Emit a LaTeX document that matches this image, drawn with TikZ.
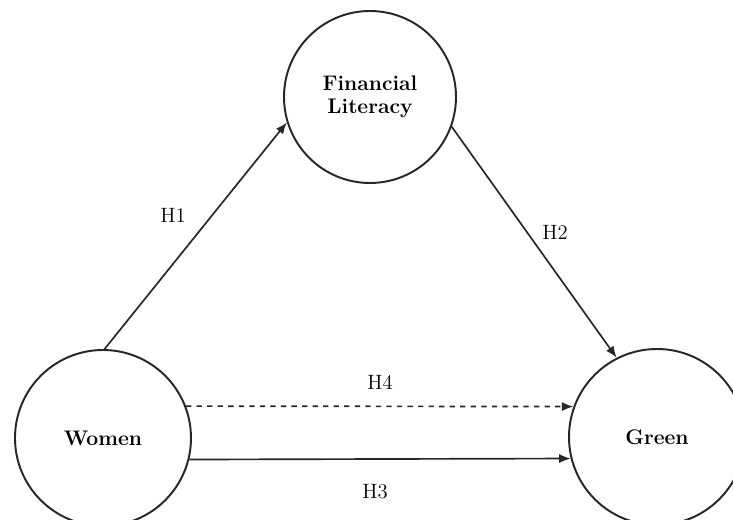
\documentclass[tikz,border=0pt]{standalone}
\usepackage{tikz}
\usetikzlibrary{arrows.meta}

\tikzset{
    construct/.style={circle, draw=black!85, line width=1.1pt, align=center, font=\large\bfseries},
    hyp/.style={black!85, line width=0.95pt, -{Latex[length=2.3mm,width=1.8mm]}},
    hlabel/.style={font=\fontsize{11.8}{14}\selectfont}
}

\begin{document}
\begin{tikzpicture}
        \clip (0,0) rectangle (14.66,-10.4);
        \fill [white] (0,0) rectangle (14.66,-10.4);

        \node [construct, minimum size=3.44cm] (fin) at (7.4,-1.94) {Financial\\[-1pt]Literacy};
        \node [construct, minimum size=3.52cm] (women) at (2.06,-8.76) {Women};
        \node [construct, minimum size=3.52cm] (green) at (13.14,-8.74) {Green};

        \draw [hyp] (women.89) -- (fin.197);
        \draw [hyp] (fin.-20) -- (green.117);
        \draw [hyp, dashed] (women.21) -- (green.160);
        \draw [hyp] (women.-14) -- (green.194);

        \node [hlabel] (h1) at (3.46,-4.30) {H1};
        \node [hlabel] (h2) at (11.1,-4.64) {H2};
        \node [hlabel] (h4) at (7.6,-7.64) {H4};
        \node [hlabel] (h3) at (7.5,-9.84) {H3};
    \end{tikzpicture}
\end{document}
